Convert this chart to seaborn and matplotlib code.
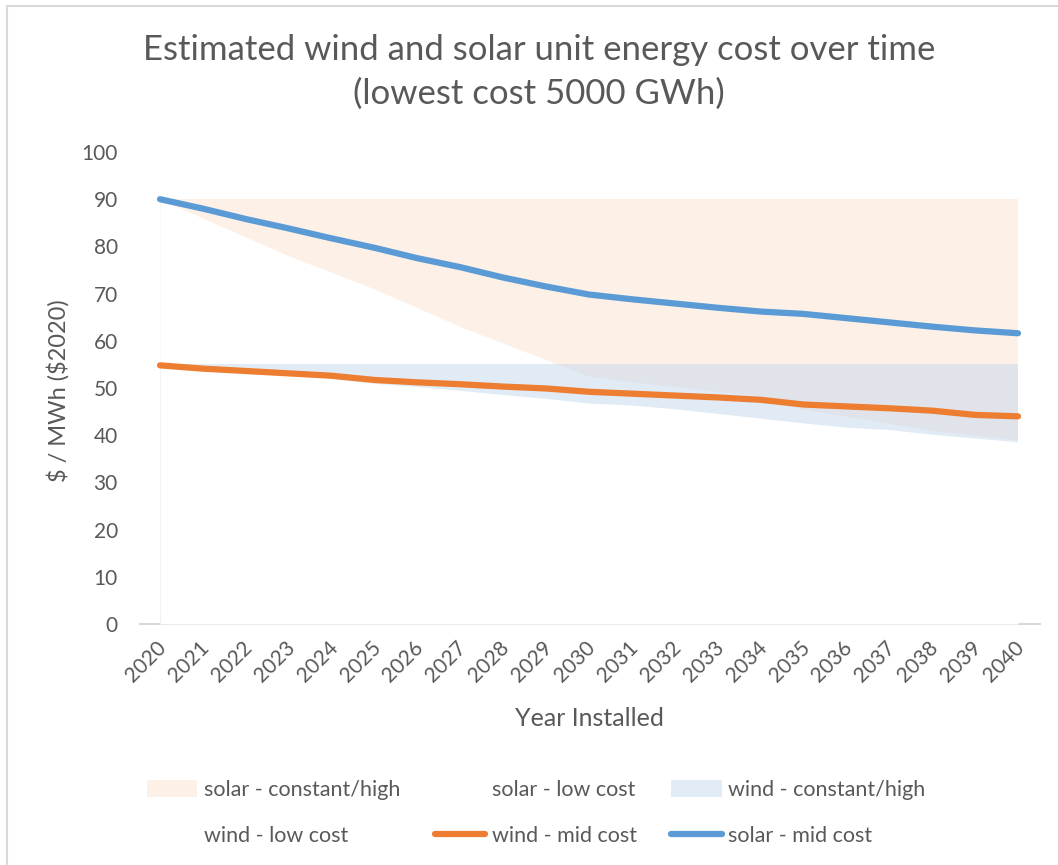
import matplotlib
matplotlib.use("Agg")
import matplotlib.pyplot as plt
from matplotlib.patches import Patch, Rectangle
from matplotlib.lines import Line2D
from matplotlib.transforms import ScaledTranslation
import seaborn as sns
import pandas as pd

# Installation years
years = list(range(2020, 2041))

# Cost scenarios, $/MWh ($2020)
solar_constant_high = [90] * 21
solar_low_cost = [90, 86, 82, 78, 74.5, 71, 67, 63, 59.5, 56, 52.5,
                  51.3, 50.3, 49.3, 48.3, 45.5, 44, 42.5, 41, 40, 39]
wind_constant_high = [55] * 21
wind_low_cost = [55, 54.3, 53.8, 53.1, 52, 51, 50.3, 49.5, 48.6, 47.8, 46.8,
                 46.4, 45.6, 44.6, 43.6, 42.6, 41.7, 41.2, 40.2, 39.4, 38.6]
wind_mid_cost = [54.8, 54.1, 53.6, 53.1, 52.6, 51.7, 51.2, 50.8, 50.3, 49.9, 49.2,
                 48.8, 48.4, 48.0, 47.5, 46.5, 46.1, 45.7, 45.2, 44.3, 44.0]
solar_mid_cost = [90, 88, 85.8, 83.8, 81.7, 79.7, 77.5, 75.6, 73.4, 71.5, 69.8,
                  68.8, 67.9, 67.0, 66.2, 65.7, 64.8, 63.9, 63.0, 62.2, 61.6]

df = pd.DataFrame({
    "year": years,
    "solar_high": solar_constant_high,
    "solar_low": solar_low_cost,
    "wind_high": wind_constant_high,
    "wind_low": wind_low_cost,
    "wind_mid": wind_mid_cost,
    "solar_mid": solar_mid_cost,
})

sns.set_theme(style="white")
plt.rcParams["font.family"] = ["Lato", "DejaVu Sans"]

TEXT = "#595959"
ORANGE = "#ED7D31"
BLUE = "#5B9BD5"
PEACH = "#FDF0E7"
SKY = "#C5D9ED"

W, H = 1058, 865
fig = plt.figure(figsize=(W / 100, H / 100), dpi=100)
fig.patch.set_facecolor("white")

ax = fig.add_axes([140 / W, 1 - 624 / H, 900 / W, 472 / H])

# Stacked-area style bands
ax.fill_between(df["year"], 0, df["solar_high"], color=PEACH, lw=0, zorder=1)
ax.fill_between(df["year"], 0, df["solar_low"], color="white", lw=0, zorder=2)
ax.fill_between(df["year"], 0, df["wind_high"], color=SKY, alpha=0.5, lw=0, zorder=3)
ax.fill_between(df["year"], 0, df["wind_low"], color="white", lw=0, zorder=4)

sns.lineplot(data=df, x="year", y="wind_mid", color=ORANGE, lw=4.5,
             solid_capstyle="round", ax=ax, zorder=5)
sns.lineplot(data=df, x="year", y="solar_mid", color=BLUE, lw=4.5,
             solid_capstyle="round", ax=ax, zorder=6)

ax.set_xlim(2020 - 20 / 42.9, 2040 + 22 / 42.9)
ax.set_ylim(0, 100)
ax.set_yticks(range(0, 101, 10))
ax.set_xticks(years)
ax.set_xticklabels([str(y) for y in years], rotation=45, ha="right",
                   va="top", rotation_mode="anchor")
ax.tick_params(axis="x", length=0, pad=10, labelsize=15, labelcolor=TEXT)
ax.tick_params(axis="y", length=0, pad=16, labelsize=15, labelcolor=TEXT)
shift = ScaledTranslation(-4 / 100, 0, fig.dpi_scale_trans)
for lbl in ax.get_xticklabels():
    lbl.set_transform(lbl.get_transform() + shift)
ax.set_xlabel("")
ax.set_ylabel("")
for side in ["top", "right", "left"]:
    ax.spines[side].set_visible(False)
ax.spines["bottom"].set_color("#d9d9d9")
ax.spines["bottom"].set_linewidth(1.5)
ax.grid(False)
ax.set_facecolor("none")

fig.text(539 / W, 1 - 72 / H,
         "Estimated wind and solar unit energy cost over time\n(lowest cost 5000 GWh)",
         ha="center", va="center", fontsize=25, color=TEXT, linespacing=1.45)
fig.text(58 / W, 1 - 391 / H, r"\$ / MWh (\$2020)", rotation=90,
         ha="center", va="center", fontsize=17, color=TEXT)
fig.text(589 / W, 1 - 719 / H, "Year Installed", ha="center", va="center",
         fontsize=18, color=TEXT)

handles = [
    Patch(facecolor=PEACH, edgecolor="none"),
    Patch(facecolor="white", edgecolor="none"),
    Patch(facecolor="#E2ECF6", edgecolor="none"),
    Patch(facecolor="white", edgecolor="none"),
    Line2D([], [], color=ORANGE, lw=4.5, solid_capstyle="round"),
    Line2D([], [], color=BLUE, lw=4.5, solid_capstyle="round"),
]
labels = ["solar - constant/high", "solar - low cost", "wind - constant/high",
          "wind - low cost", "wind - mid cost", "solar - mid cost"]
order = [0, 3, 1, 4, 2, 5]
leg = fig.legend([handles[i] for i in order], [labels[i] for i in order],
                 ncol=3, loc="center", bbox_to_anchor=(536 / W, 1 - 813 / H),
                 frameon=False, fontsize=15.5, handlelength=2.35, handleheight=0.85,
                 handletextpad=0.3, columnspacing=1.6, labelspacing=1.2)
for t in leg.get_texts():
    t.set_color(TEXT)

# Chart-area border
fig.patches.append(Rectangle((6.5 / W, -0.05), 1.1, 1 - 5.5 / H + 0.05,
                             transform=fig.transFigure, fill=False,
                             edgecolor="#d9d9d9", lw=1.5, zorder=0))

fig.savefig("out.png", dpi=100)
